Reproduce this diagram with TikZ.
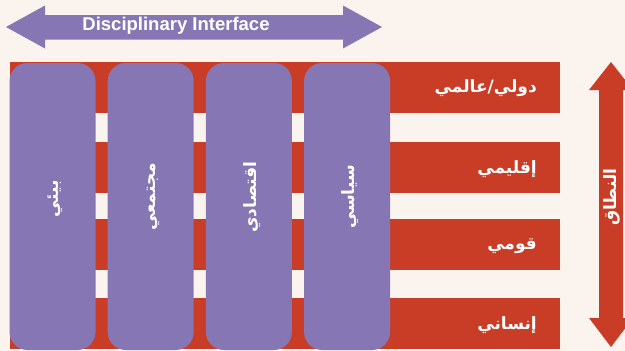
\documentclass[tikz,border=0pt]{standalone}
\usepackage{fontspec}
\setmainfont{Liberation Sans}
\newfontfamily\arabicfont[Script=Arabic]{DejaVu Sans}
\TeXXeTstate=1
\definecolor{cream}{HTML}{FBF3EE}
\definecolor{bandred}{HTML}{C93D27}
\definecolor{lilac}{HTML}{8677B4}
\begin{document}
\begin{tikzpicture}[x=1pt,y=-1pt,
  band/.style={fill=bandred, minimum width=550pt, minimum height=51pt, inner sep=0pt},
  pillar/.style={fill=lilac, minimum width=86pt, minimum height=287pt, inner sep=0pt, rounded corners=18pt},
  pillartext/.style={text=white, rotate=90, font=\arabicfont\bfseries\fontsize{17}{19}\selectfont},
  levellabel/.style={text=white, anchor=east, inner sep=0pt, font=\arabicfont\bfseries\fontsize{17}{19}\selectfont}]
  % page background
  \fill[cream] (0,0) rectangle (625,351);
  \useasboundingbox (0,0) rectangle (625,351);

  % horizontal double arrow with its caption
  \fill[lilac] (6,27) -- (45,5.5) -- (45,15) -- (343,15) -- (343,5.5) -- (382,27)
     -- (343,48.5) -- (343,39.5) -- (45,39.5) -- (45,48.5) -- cycle;
  \node[text=white, font=\bfseries\fontsize{18.5}{20}\selectfont] (disc) at (176,26) {Disciplinary Interface};

  % scale bands
  \node[band] (b1) at (285,87.5) {};
  \node[band] (b2) at (285,167.5) {};
  \node[band] (b3) at (285,244.5) {};
  \node[band] (b4) at (285,323.5) {};

  % discipline pillars
  \node[pillar] (p1) at (52.5,206.5) {};
  \node[pillar] (p2) at (150.7,206.5) {};
  \node[pillar] (p3) at (248.9,206.5) {};
  \node[pillar] (p4) at (347.1,206.5) {};

  \node[pillartext] (t1) at (55.5,199) {\beginR بيئي\endR};
  \node[pillartext] (t2) at (153.7,197) {\beginR مجتمعي\endR};
  \node[pillartext] (t3) at (251.9,197) {\beginR اقتصادي\endR};
  \node[pillartext] (t4) at (350.1,197) {\beginR سياسي\endR};

  % level labels at the right end of each band
  \node[levellabel] (l1) at (537,88) {\beginR دولي/عالمي\endR};
  \node[levellabel] (l2) at (537,169) {\beginR إقليمي\endR};
  \node[levellabel] (l3) at (537,246) {\beginR قومي\endR};
  \node[levellabel] (l4) at (537,325) {\beginR إنساني\endR};

  % vertical double arrow for scale
  \fill[bandred] (611,62) -- (633,90) -- (623,90) -- (623,318) -- (633,318) -- (611,347)
     -- (589,318) -- (599,318) -- (599,90) -- (589,90) -- cycle;
  \node[pillartext] (scope) at (612,197) {\beginR النطاق\endR};
\end{tikzpicture}
\end{document}
